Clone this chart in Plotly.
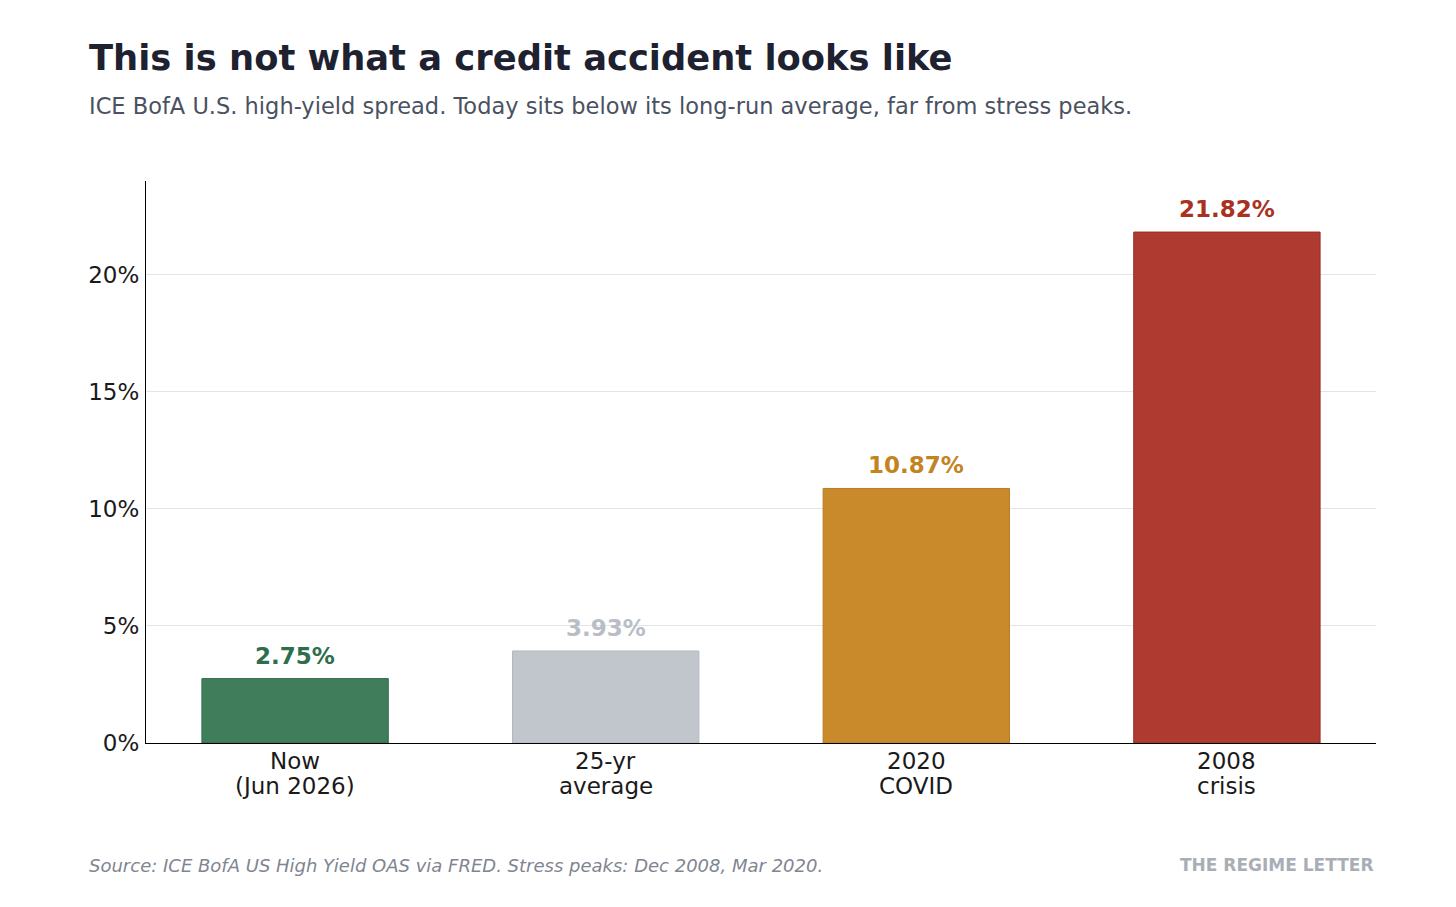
import plotly.graph_objects as go

# data
categories = ["Now\n(Jun 2026)", "25-yr\naverage", "2020\nCOVID", "2008\ncrisis"]
spread_pct = [2.75, 3.93, 10.87, 21.82]
y_ticks = [0, 5, 10, 15, 20]

# styling
bar_colors = ["#3f7d5b", "#c1c6cd", "#c98a2c", "#af3a2f"]
edge_colors = ["#2f6a4a", "#b3b8bf", "#b87c22", "#9a2f25"]
label_colors = ["#2f6e4d", "#b9bec6", "#c2841f", "#a8321f"]
FONT = "DejaVu Sans"

# page body adds an 8px offset, so the figure is laid out 8px up/left
W, H = 1456, 907
OFF = 8
L, R, T, B = 146 - OFF, 80 + OFF, 181 - OFF, 164 + OFF


def px_x(x):
    return (x - OFF - L) / (W - L - R)


def px_y(y):
    return (H - B - (y - OFF)) / (H - B - T)


fig = go.Figure()
fig.add_trace(go.Bar(
    x=list(range(len(categories))),
    y=spread_pct,
    width=0.6,
    marker=dict(color=bar_colors, line=dict(color=edge_colors, width=1)),
    hoverinfo="skip",
))

# value labels above bars
for i, v in enumerate(spread_pct):
    fig.add_annotation(
        x=i, y=v, text=f"<b>{v:.2f}%</b>", showarrow=False,
        xanchor="center", yanchor="bottom", yshift=8,
        font=dict(family=FONT, size=23, color=label_colors[i]),
    )

# category labels (tighter line spacing than plotly tick labels allow)
for i, cat in enumerate(categories):
    for j, line in enumerate(cat.split("\n")):
        fig.add_annotation(
            x=i, y=0, text=line, showarrow=False,
            xanchor="center", yanchor="middle", yshift=-18 - 25 * j,
            font=dict(family=FONT, size=23, color="#1a1a1a"),
        )

fig.add_annotation(
    xref="paper", yref="paper", x=px_x(87), y=px_y(57),
    xanchor="left", yanchor="middle", showarrow=False,
    text="<b>This is not what a credit accident looks like</b>",
    font=dict(family=FONT, size=35.3, color="#1e2130"),
)
fig.add_annotation(
    xref="paper", yref="paper", x=px_x(87), y=px_y(106),
    xanchor="left", yanchor="middle", showarrow=False,
    text="ICE BofA U.S. high-yield spread. Today sits below its long-run average, far from stress peaks.",
    font=dict(family=FONT, size=22.5, color="#4a5161"),
)
fig.add_annotation(
    xref="paper", yref="paper", x=px_x(87), y=px_y(865),
    xanchor="left", yanchor="middle", showarrow=False,
    text="<i>Source: ICE BofA US High Yield OAS via FRED. Stress peaks: Dec 2008, Mar 2020.</i>",
    font=dict(family=FONT, size=18, color="#7f8591"),
)
fig.add_annotation(
    xref="paper", yref="paper", x=1, y=px_y(865),
    xanchor="right", yanchor="middle", showarrow=False,
    text="<b>THE REGIME LETTER</b>",
    font=dict(family=FONT, size=17, color="#a9aeb6"),
)

fig.update_layout(
    width=W, height=H,
    margin=dict(l=L, r=R, t=T, b=B),
    plot_bgcolor="white", paper_bgcolor="white",
    showlegend=False,
    font=dict(family=FONT, size=23, color="#1a1a1a"),
    bargap=0.4,
)
fig.update_xaxes(
    range=[-0.48, 3.48],
    showticklabels=False,
    showline=True, linecolor="black", linewidth=1.3,
    showgrid=False, ticks="", zeroline=False,
)
fig.update_yaxes(
    range=[0, 24.0],
    tickmode="array", tickvals=y_ticks, ticktext=[f"{t}%" for t in y_ticks],
    showline=True, linecolor="black", linewidth=1.3,
    showgrid=True, gridcolor="#e3e4e8", gridwidth=1,
    ticks="", zeroline=False, ticklabelstandoff=1,
)

fig.write_html("out.html")
